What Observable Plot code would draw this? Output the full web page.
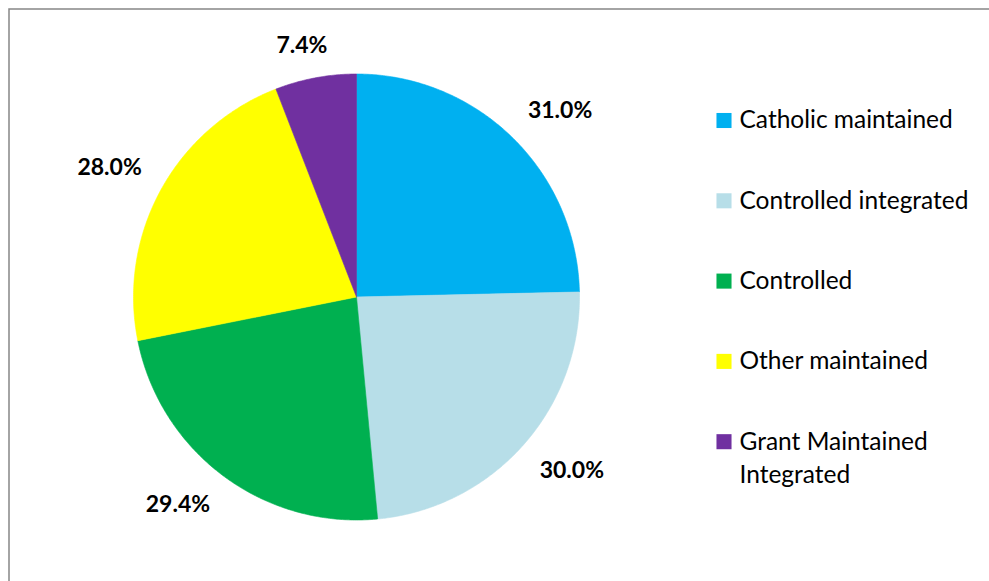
<!DOCTYPE html>
<html>
<head>
<meta charset="utf-8">
<script src="https://cdn.jsdelivr.net/npm/d3@7"></script>
<script src="https://cdn.jsdelivr.net/npm/@observablehq/plot@0.6"></script>
<style>
  html, body { margin: 0; padding: 0; background: #fff; }
  svg { display: block; }
</style>
</head>
<body>
<div id="chart"></div>
<script>
const categories = ["Catholic maintained", "Controlled integrated", "Controlled", "Other maintained", "Grant Maintained Integrated"];
const values = [31.0, 30.0, 29.4, 28.0, 7.4];
const labels = ["31.0%", "30.0%", "29.4%", "28.0%", "7.4%"];
const legendLines = [["Catholic maintained"], ["Controlled integrated"], ["Controlled"], ["Other maintained"], ["Grant Maintained", "Integrated"]];
const colors = ["#00B0F0", "#B7DEE8", "#00B050", "#FFFF00", "#7030A0"];

const W = 989, H = 581;
const cx = 356, cy = 296.5, R = 223;

const pie = d3.pie().sort(null).value(d => d.value)(categories.map((c, i) => ({category: c, value: values[i], label: labels[i]})));

// slice polygons
const slicePts = [];
for (const a of pie) {
  const cat = a.data.category;
  slicePts.push({category: cat, x: cx, y: cy});
  const n = Math.max(2, Math.ceil((a.endAngle - a.startAngle) / (Math.PI / 360)));
  for (let k = 0; k <= n; k++) {
    const t = a.startAngle + (a.endAngle - a.startAngle) * k / n;
    slicePts.push({category: cat, x: cx + R * Math.sin(t), y: cy - R * Math.cos(t)});
  }
  slicePts.push({category: cat, x: cx, y: cy});
}

// labels placed outside the slice end (box touching the edge)
const clamp = v => Math.max(-1, Math.min(1, v));
const labelPts = pie.map(a => {
  const m = (a.startAngle + a.endAngle) / 2;
  const s = Math.sin(m), c = Math.cos(m);
  const hw = a.data.label.length * 6.6, hh = 12, g = 21;
  const px = cx + (R + g) * s, py = cy - (R + g) * c;
  return {label: a.data.label, x: px + hw * clamp(s / 0.5), y: py - hh * clamp(c / 0.5)};
});

// legend
const legX = 723.5, legY0 = 120, legStep = 80.3;
const legMarks = categories.map((c, i) => ({category: c, x: legX, y: legY0 + i * legStep}));
const legText = [];
legendLines.forEach((lines, i) => lines.forEach((t, j) => legText.push({text: t, x: legX + 15.5, y: legY0 + i * legStep + j * 33})));

const plot = Plot.plot({
  width: W,
  height: H,
  margin: 0,
  x: {domain: [0, W], range: [0, W], axis: null},
  y: {domain: [0, H], range: [0, H], axis: null},
  color: {domain: categories, range: colors},
  style: {fontFamily: "Lato, 'Open Sans', sans-serif", background: "#fff"},
  marks: [
    Plot.line(slicePts, {x: "x", y: "y", z: "category", fill: "category", stroke: "category", strokeWidth: 0.6, curve: "linear"}),
    Plot.text(labelPts, {x: "x", y: "y", text: "label", fontSize: 23, fontWeight: "bold", fill: "#000"}),
    Plot.dot(legMarks, {x: "x", y: "y", fill: "category", symbol: "square", r: 8.5, stroke: null}),
    Plot.text(legText, {x: "x", y: "y", text: "text", textAnchor: "start", fontSize: 24.5, fill: "#000"}),
    Plot.frame({stroke: "#868686", strokeWidth: 1.5, insetLeft: 8.5, insetTop: 8.5, insetRight: -5, insetBottom: -5})
  ]
});
document.getElementById("chart").appendChild(plot);
</script>
</body>
</html>
